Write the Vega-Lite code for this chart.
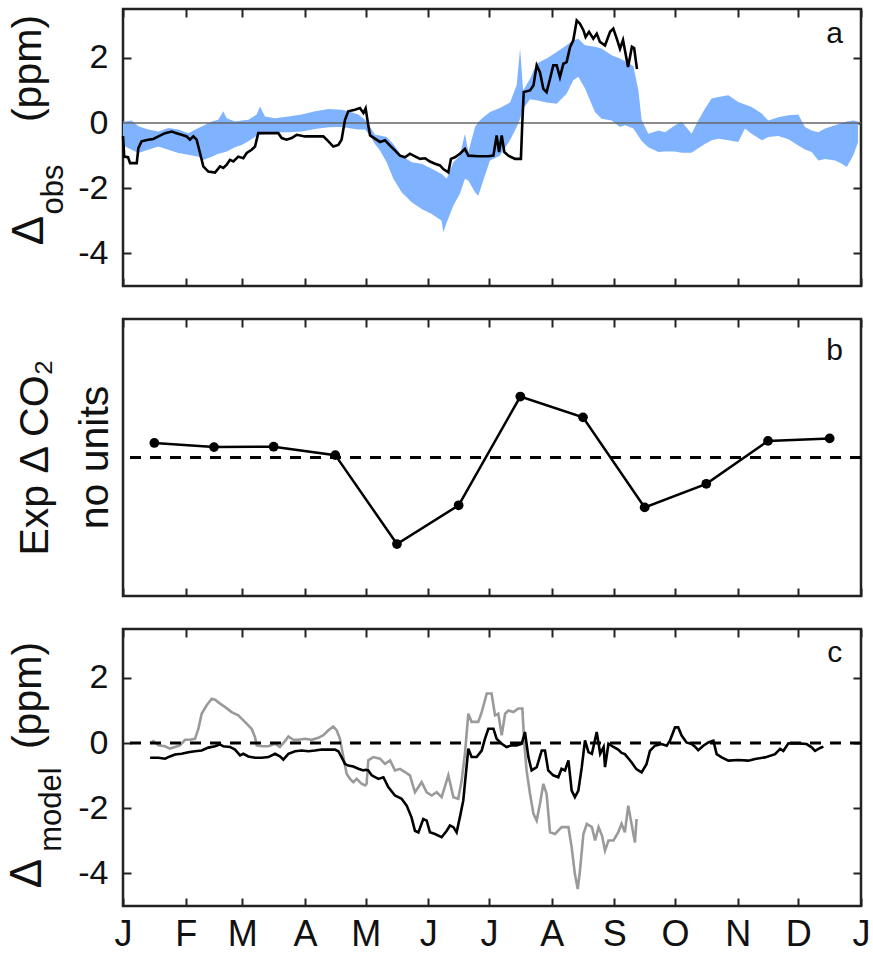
{
  "$schema": "https://vega.github.io/schema/vega-lite/v6.json",
  "background": "white",
  "padding": {"left": 3, "top": 6, "right": 8, "bottom": 0},
  "spacing": 27,
  "config": {
    "font": "Liberation Sans",
    "view": {"stroke": "#222", "strokeWidth": 2.5},
    "axis": {
      "grid": false, "domain": false,
      "tickColor": "#222", "tickWidth": 2,
      "labelFont": "Liberation Sans", "labelFontSize": 34, "labelColor": "#111",
      "labelOverlap": false, "labelFlush": false,
      "titleFont": "Liberation Sans", "titleColor": "#111", "titleFontWeight": "normal"
    }
  },
  "datasets": {
    "bandA": [
      {"day":0,"lo":-0.7,"hi":0.05},{"day":1,"lo":-0.72,"hi":0.05},{"day":4.3,"lo":-0.82,"hi":0.08},{"day":7.6,"lo":-0.92,"hi":-0.1},{"day":12.5,"lo":-0.82,"hi":-0.2},{"day":17.5,"lo":-0.72,"hi":-0.26},{"day":22.4,"lo":-0.82,"hi":-0.15},{"day":27.4,"lo":-0.92,"hi":-0.2},{"day":32.3,"lo":-0.97,"hi":-0.31},{"day":37.3,"lo":-1.03,"hi":-0.15},{"day":39.7,"lo":-1.13,"hi":-0.08},{"day":43.9,"lo":-1.03,"hi":0.05},{"day":47.1,"lo":-0.94,"hi":0.1},{"day":49.6,"lo":-0.9,"hi":0.36},{"day":51.3,"lo":-0.87,"hi":0.15},{"day":55.4,"lo":-0.74,"hi":0.05},{"day":58.7,"lo":-0.67,"hi":0.08},{"day":62,"lo":-0.56,"hi":0.1},{"day":66.1,"lo":-0.39,"hi":0.26},{"day":67.8,"lo":-0.36,"hi":0.51},{"day":70.2,"lo":-0.33,"hi":0.2},{"day":75.2,"lo":-0.29,"hi":0.15},{"day":81.8,"lo":-0.28,"hi":0.2},{"day":88.4,"lo":-0.26,"hi":0.26},{"day":95,"lo":-0.18,"hi":0.36},{"day":101.6,"lo":-0.13,"hi":0.43},{"day":108.1,"lo":-0.12,"hi":0.41},{"day":111.4,"lo":-0.15,"hi":0.36},{"day":116.4,"lo":-0.2,"hi":0.26},{"day":119.7,"lo":-0.2,"hi":0.1},{"day":122.2,"lo":-0.38,"hi":-0.12},{"day":124.6,"lo":-0.64,"hi":-0.36},{"day":127.1,"lo":-0.84,"hi":-0.38},{"day":130.4,"lo":-1.2,"hi":-0.43},{"day":133.7,"lo":-1.71,"hi":-0.64},{"day":137.8,"lo":-2.12,"hi":-1.0},{"day":142.8,"lo":-2.43,"hi":-1.2},{"day":147.7,"lo":-2.64,"hi":-1.25},{"day":152.7,"lo":-2.79,"hi":-1.4},{"day":157.6,"lo":-3.0,"hi":-1.56},{"day":158.4,"lo":-3.35,"hi":-1.61},{"day":160.1,"lo":-3.05,"hi":-1.71},{"day":163.4,"lo":-2.53,"hi":-1.2},{"day":166.6,"lo":-2.17,"hi":-1.0},{"day":169.1,"lo":-1.71,"hi":-0.33},{"day":170.8,"lo":-1.76,"hi":-0.89},{"day":174.1,"lo":-2.12,"hi":-0.12},{"day":175.7,"lo":-2.23,"hi":0.03},{"day":178.2,"lo":-1.76,"hi":0.18},{"day":181.5,"lo":-1.15,"hi":0.34},{"day":186.4,"lo":-1.0,"hi":0.46},{"day":191.4,"lo":-0.53,"hi":0.63},{"day":194.7,"lo":-0.12,"hi":1.16},{"day":196.4,"lo":0.13,"hi":2.29},{"day":197.9,"lo":0.44,"hi":1.0},{"day":201.3,"lo":0.73,"hi":1.36},{"day":204.6,"lo":0.7,"hi":1.83},{"day":209.5,"lo":0.63,"hi":1.98},{"day":214.5,"lo":0.59,"hi":2.18},{"day":219.4,"lo":0.9,"hi":2.39},{"day":222.7,"lo":1.31,"hi":2.54},{"day":225.2,"lo":1.42,"hi":2.59},{"day":228.5,"lo":1.06,"hi":2.39},{"day":233.4,"lo":0.34,"hi":2.34},{"day":236.7,"lo":0.13,"hi":2.29},{"day":241.7,"lo":0.08,"hi":2.08},{"day":245.8,"lo":-0.12,"hi":1.98},{"day":248.3,"lo":-0.07,"hi":1.9},{"day":252.4,"lo":-0.17,"hi":1.75},{"day":254.9,"lo":-0.4,"hi":1.0},{"day":256.5,"lo":-0.55,"hi":0.1},{"day":259.8,"lo":-0.74,"hi":-0.33},{"day":264.8,"lo":-0.89,"hi":-0.23},{"day":268.1,"lo":-0.87,"hi":-0.28},{"day":273,"lo":-0.87,"hi":-0.07},{"day":276.3,"lo":-0.91,"hi":0.05},{"day":281.2,"lo":-0.91,"hi":-0.33},{"day":284.5,"lo":-0.77,"hi":0.08},{"day":287.8,"lo":-0.64,"hi":0.44},{"day":291.1,"lo":-0.53,"hi":0.75},{"day":294.4,"lo":-0.48,"hi":0.8},{"day":299.4,"lo":-0.53,"hi":0.85},{"day":304.3,"lo":-0.58,"hi":0.65},{"day":307.6,"lo":-0.17,"hi":0.57},{"day":310.9,"lo":-0.33,"hi":0.49},{"day":315.9,"lo":-0.53,"hi":0.29},{"day":319.2,"lo":-0.43,"hi":0.08},{"day":324.1,"lo":-0.4,"hi":0.18},{"day":329.1,"lo":-0.5,"hi":0.24},{"day":334,"lo":-0.69,"hi":0.26},{"day":337.3,"lo":-0.81,"hi":-0.12},{"day":340.6,"lo":-0.89,"hi":-0.23},{"day":343.9,"lo":-1.15,"hi":-0.28},{"day":347.2,"lo":-1.1,"hi":-0.17},{"day":352.2,"lo":-1.15,"hi":-0.07},{"day":355.5,"lo":-1.25,"hi":0},{"day":358,"lo":-1.35,"hi":0.05},{"day":361.2,"lo":-0.99,"hi":0.08},{"day":363.5,"lo":-0.6,"hi":0.05}
    ],
    "obsA": [
      {"day":0,"v":-0.4},{"day":0.6,"v":-1.03},{"day":2.5,"v":-1.05},{"day":3.5,"v":-1.23},{"day":6.8,"v":-1.23},{"day":7.6,"v":-0.77},{"day":9.2,"v":-0.56},{"day":12.5,"v":-0.51},{"day":15,"v":-0.49},{"day":17.5,"v":-0.41},{"day":20.8,"v":-0.31},{"day":24.1,"v":-0.26},{"day":26.5,"v":-0.31},{"day":29,"v":-0.36},{"day":31.5,"v":-0.41},{"day":33.1,"v":-0.51},{"day":34.8,"v":-0.41},{"day":36.4,"v":-0.51},{"day":38.1,"v":-0.92},{"day":39.7,"v":-1.33},{"day":42.2,"v":-1.49},{"day":45.5,"v":-1.52},{"day":48,"v":-1.33},{"day":49.6,"v":-1.38},{"day":51.3,"v":-1.28},{"day":52.9,"v":-1.13},{"day":54.6,"v":-1.18},{"day":57,"v":-1.03},{"day":59.5,"v":-1.08},{"day":61.2,"v":-0.92},{"day":63.6,"v":-0.82},{"day":65.3,"v":-0.72},{"day":66.9,"v":-0.31},{"day":69.4,"v":-0.31},{"day":73.5,"v":-0.31},{"day":76.8,"v":-0.31},{"day":78.5,"v":-0.46},{"day":80.9,"v":-0.51},{"day":83.4,"v":-0.46},{"day":85.9,"v":-0.36},{"day":90,"v":-0.41},{"day":95,"v":-0.41},{"day":99.1,"v":-0.41},{"day":101.6,"v":-0.56},{"day":104,"v":-0.72},{"day":106.5,"v":-0.67},{"day":108.1,"v":-0.51},{"day":109.8,"v":0.1},{"day":111.4,"v":0.36},{"day":114.7,"v":0.41},{"day":117.2,"v":0.46},{"day":118.9,"v":0.31},{"day":120,"v":0.45},{"day":121.3,"v":-0.07},{"day":122.2,"v":-0.38},{"day":124.6,"v":-0.48},{"day":127.1,"v":-0.58},{"day":129.6,"v":-0.53},{"day":132.1,"v":-0.69},{"day":134.5,"v":-0.84},{"day":137,"v":-1.0},{"day":139.5,"v":-1.05},{"day":141.9,"v":-0.94},{"day":144.4,"v":-1.02},{"day":146.9,"v":-1.1},{"day":149.4,"v":-1.08},{"day":151.8,"v":-1.18},{"day":154.3,"v":-1.25},{"day":156.8,"v":-1.3},{"day":158.4,"v":-1.41},{"day":160.9,"v":-1.51},{"day":162.2,"v":-1.1},{"day":164.2,"v":-1.05},{"day":166.6,"v":-0.94},{"day":169.1,"v":-0.79},{"day":170.8,"v":-1.0},{"day":175.7,"v":-1.02},{"day":180.7,"v":-1.02},{"day":183.2,"v":-1.0},{"day":184.8,"v":-0.38},{"day":186,"v":-0.89},{"day":187.3,"v":-0.38},{"day":188.6,"v":-0.89},{"day":190.6,"v":-1.0},{"day":193.9,"v":-1.1},{"day":196.8,"v":-1.1},{"day":197.5,"v":0.03},{"day":198.2,"v":0.95},{"day":201.3,"v":1.0},{"day":203,"v":1.15},{"day":204.6,"v":1.77},{"day":206.2,"v":1.56},{"day":207.9,"v":1.05},{"day":209.5,"v":0.95},{"day":211.2,"v":1.36},{"day":212.8,"v":1.77},{"day":214.5,"v":1.77},{"day":216.1,"v":1.41},{"day":217.8,"v":1.82},{"day":219.4,"v":1.87},{"day":221.1,"v":2.33},{"day":222.7,"v":2.54},{"day":224.4,"v":3.15},{"day":226,"v":3.05},{"day":227.7,"v":2.85},{"day":228.8,"v":2.64},{"day":230.5,"v":2.8},{"day":232.6,"v":2.59},{"day":234.3,"v":2.74},{"day":235.9,"v":2.49},{"day":238.4,"v":2.38},{"day":240.9,"v":2.8},{"day":242.5,"v":2.9},{"day":244.2,"v":2.59},{"day":245.8,"v":2.28},{"day":247.3,"v":2.55},{"day":249.8,"v":1.72},{"day":251.7,"v":2.34},{"day":252.8,"v":2.3},{"day":254.2,"v":1.66}
    ],
    "expB": [
      {"day":15.5,"v":0.105},{"day":45,"v":0.075},{"day":74.5,"v":0.078},{"day":105,"v":0.017},{"day":135.5,"v":-0.625},{"day":166,"v":-0.345},{"day":196.5,"v":0.44},{"day":227.5,"v":0.29},{"day":258,"v":-0.36},{"day":288.5,"v":-0.19},{"day":319,"v":0.12},{"day":349.5,"v":0.138}
    ],
    "modelBlack": [
      {"day":13.4,"v":-0.45},{"day":17.5,"v":-0.45},{"day":20.8,"v":-0.48},{"day":23.2,"v":-0.41},{"day":25.7,"v":-0.35},{"day":29,"v":-0.33},{"day":32.3,"v":-0.28},{"day":35.6,"v":-0.25},{"day":38.9,"v":-0.23},{"day":42.2,"v":-0.14},{"day":45.5,"v":-0.1},{"day":48,"v":-0.04},{"day":49.6,"v":-0.1},{"day":52.9,"v":-0.12},{"day":55.4,"v":-0.2},{"day":57.9,"v":-0.38},{"day":59.5,"v":-0.33},{"day":62,"v":-0.41},{"day":65.3,"v":-0.45},{"day":68.6,"v":-0.45},{"day":71.9,"v":-0.43},{"day":75.2,"v":-0.33},{"day":77.6,"v":-0.41},{"day":79.3,"v":-0.51},{"day":81.8,"v":-0.33},{"day":85.1,"v":-0.25},{"day":88.4,"v":-0.23},{"day":91.7,"v":-0.25},{"day":95,"v":-0.23},{"day":98.3,"v":-0.2},{"day":101.6,"v":-0.2},{"day":104.8,"v":-0.2},{"day":106.5,"v":-0.25},{"day":108.1,"v":-0.43},{"day":109.8,"v":-0.64},{"day":111.4,"v":-0.69},{"day":113.9,"v":-0.72},{"day":116.4,"v":-0.79},{"day":118.9,"v":-0.84},{"day":120,"v":-0.82},{"day":121.3,"v":-0.84},{"day":123,"v":-0.99},{"day":126.3,"v":-1.1},{"day":128.8,"v":-1.05},{"day":131.2,"v":-1.35},{"day":134.5,"v":-1.61},{"day":137.8,"v":-1.71},{"day":140.3,"v":-1.92},{"day":142.7,"v":-2.28},{"day":144.4,"v":-2.69},{"day":146.1,"v":-2.74},{"day":148.5,"v":-2.33},{"day":150.2,"v":-2.38},{"day":151.8,"v":-2.74},{"day":154.3,"v":-2.79},{"day":157.6,"v":-2.89},{"day":160.1,"v":-2.69},{"day":161.7,"v":-2.53},{"day":163.4,"v":-2.58},{"day":165,"v":-2.74},{"day":166.6,"v":-2.28},{"day":168.3,"v":-1.76},{"day":169.9,"v":-0.74},{"day":170.8,"v":-0.17},{"day":172.4,"v":-0.43},{"day":174.9,"v":-0.43},{"day":177.4,"v":-0.23},{"day":179,"v":0.13},{"day":180.7,"v":0.44},{"day":183.2,"v":0.44},{"day":184.8,"v":0.13},{"day":187.3,"v":-0.02},{"day":189.7,"v":-0.12},{"day":192.2,"v":-0.07},{"day":194.7,"v":-0.07},{"day":197.2,"v":-0.02},{"day":198.8,"v":0.34},{"day":200.5,"v":-0.43},{"day":202.1,"v":-0.84},{"day":204.6,"v":-0.74},{"day":207.1,"v":-0.23},{"day":208.7,"v":-0.23},{"day":210.3,"v":-0.84},{"day":212.8,"v":-0.99},{"day":215.3,"v":-1.05},{"day":216.9,"v":-0.79},{"day":218.6,"v":-0.84},{"day":220.3,"v":-0.53},{"day":221.9,"v":-1.46},{"day":223.5,"v":-1.66},{"day":225.2,"v":-1.46},{"day":226.9,"v":-0.74},{"day":228.5,"v":0.08},{"day":230.2,"v":-0.28},{"day":231.9,"v":-0.33},{"day":234.3,"v":0.34},{"day":236,"v":-0.33},{"day":237.7,"v":-0.12},{"day":238.4,"v":-0.74},{"day":240.1,"v":-0.02},{"day":242.6,"v":-0.12},{"day":244.9,"v":-0.2},{"day":246.6,"v":-0.3},{"day":248.2,"v":-0.34},{"day":251.5,"v":-0.59},{"day":253.9,"v":-0.8},{"day":256.5,"v":-0.9},{"day":258.9,"v":-0.65},{"day":260.6,"v":-0.24},{"day":263.1,"v":-0.08},{"day":266.4,"v":-0.03},{"day":268.9,"v":-0.08},{"day":270.5,"v":0.07},{"day":273,"v":0.48},{"day":274.6,"v":0.48},{"day":276.3,"v":0.23},{"day":278.7,"v":0.02},{"day":281.2,"v":-0.03},{"day":282.9,"v":-0.11},{"day":284.5,"v":-0.22},{"day":287,"v":-0.08},{"day":289.5,"v":0.02},{"day":292,"v":0.07},{"day":293.6,"v":-0.34},{"day":296.1,"v":-0.44},{"day":299.4,"v":-0.54},{"day":304.3,"v":-0.52},{"day":309.3,"v":-0.54},{"day":312.6,"v":-0.49},{"day":317.5,"v":-0.44},{"day":322.5,"v":-0.34},{"day":325,"v":-0.18},{"day":326.6,"v":-0.24},{"day":329.1,"v":-0.01},{"day":334,"v":-0.01},{"day":338.1,"v":-0.03},{"day":340.6,"v":-0.13},{"day":342.3,"v":-0.24},{"day":344.8,"v":-0.15},{"day":346.4,"v":-0.11}
    ],
    "modelGray": [
      {"day":13.4,"v":0},{"day":15,"v":0.06},{"day":17.5,"v":-0.07},{"day":20.8,"v":-0.1},{"day":23.2,"v":-0.17},{"day":25.7,"v":-0.12},{"day":28.2,"v":-0.07},{"day":30.7,"v":0.1},{"day":33.1,"v":0.1},{"day":35.6,"v":0.13},{"day":37.3,"v":0.44},{"day":38.9,"v":0.9},{"day":41.4,"v":1.16},{"day":43.9,"v":1.36},{"day":45.5,"v":1.33},{"day":48,"v":1.21},{"day":50.4,"v":1.11},{"day":53.7,"v":0.95},{"day":57,"v":0.85},{"day":60.3,"v":0.65},{"day":63.6,"v":0.44},{"day":65.3,"v":0.18},{"day":66.1,"v":-0.07},{"day":68.6,"v":-0.1},{"day":71.9,"v":-0.1},{"day":75.2,"v":-0.02},{"day":77.6,"v":-0.12},{"day":80.1,"v":0.06},{"day":81.8,"v":0.2},{"day":84.2,"v":0.1},{"day":86.7,"v":0.1},{"day":90,"v":0.13},{"day":93.3,"v":0.1},{"day":96.6,"v":0.16},{"day":99.1,"v":0.24},{"day":101.6,"v":0.39},{"day":104,"v":0.51},{"day":105.7,"v":0.39},{"day":107.3,"v":0.13},{"day":109,"v":-0.43},{"day":110.6,"v":-0.94},{"day":112.3,"v":-1.1},{"day":113.9,"v":-1.2},{"day":115.6,"v":-1.1},{"day":118,"v":-1.25},{"day":119.7,"v":-1.3},{"day":120.5,"v":-1.25},{"day":121.3,"v":-0.53},{"day":123.8,"v":-0.43},{"day":127.1,"v":-0.48},{"day":129.6,"v":-0.64},{"day":132.1,"v":-0.53},{"day":134.5,"v":-0.84},{"day":137,"v":-0.79},{"day":139.5,"v":-0.89},{"day":141.9,"v":-0.99},{"day":144.4,"v":-1.51},{"day":147.7,"v":-1.2},{"day":150.2,"v":-1.51},{"day":152.7,"v":-1.61},{"day":155.1,"v":-1.51},{"day":157.6,"v":-1.66},{"day":160.9,"v":-0.99},{"day":163.4,"v":-1.66},{"day":165.8,"v":-1.71},{"day":167.5,"v":-1.15},{"day":169.1,"v":-0.33},{"day":170.8,"v":0.9},{"day":172.4,"v":0.65},{"day":175.7,"v":0.65},{"day":177.4,"v":0.95},{"day":179.9,"v":1.52},{"day":182.3,"v":1.52},{"day":184,"v":0.85},{"day":185.6,"v":0.9},{"day":187.3,"v":0.24},{"day":189,"v":0.9},{"day":190.6,"v":1.0},{"day":193.1,"v":0.95},{"day":195.5,"v":1.06},{"day":197.5,"v":1.06},{"day":198.5,"v":-0.02},{"day":199.6,"v":-0.84},{"day":201.3,"v":-1.56},{"day":203,"v":-2.17},{"day":204.6,"v":-2.38},{"day":206.2,"v":-1.87},{"day":207.9,"v":-1.25},{"day":209.5,"v":-1.56},{"day":211.2,"v":-2.74},{"day":213.7,"v":-2.79},{"day":216.9,"v":-2.58},{"day":220.3,"v":-2.58},{"day":221.9,"v":-3.2},{"day":223.5,"v":-4.02},{"day":224.9,"v":-4.48},{"day":226,"v":-3.92},{"day":227.7,"v":-2.79},{"day":229.4,"v":-2.48},{"day":231.9,"v":-2.58},{"day":233.5,"v":-2.99},{"day":235.2,"v":-2.58},{"day":236.9,"v":-2.84},{"day":238.4,"v":-3.3},{"day":240.1,"v":-2.99},{"day":242.6,"v":-2.99},{"day":244.9,"v":-2.74},{"day":246.6,"v":-2.48},{"day":248.2,"v":-2.74},{"day":249.9,"v":-1.92},{"day":251.5,"v":-2.48},{"day":253.2,"v":-3.05},{"day":254,"v":-2.33}
    ]
  },
  "vconcat": [
    {
      "width": 738, "height": 277,
      "layer": [
        {
          "data": {"name": "bandA"},
          "mark": {"type": "area", "color": "#80b3ff", "opacity": 1},
          "encoding": {
            "x": {"field": "day", "type": "quantitative", "scale": {"domain": [0, 365], "nice": false, "zero": false},
                  "axis": {"orient": "bottom", "values": [0,31,59,90,120,151,181,212,243,273,304,334,365], "labels": false, "tickSize": -8, "title": null}},
            "y": {"field": "lo", "type": "quantitative", "scale": {"domain": [-5, 3.5], "nice": false, "zero": false},
                  "axis": {"orient": "left", "values": [-4, -2, 0, 2], "tickSize": -8, "labelPadding": 23, "labelExpr": "'' + datum.value",
                           "title": "(ppm)", "titleX": -83, "titleY": 59, "titleAngle": 270, "titleFontSize": 41, "titleAlign": "center", "titleBaseline": "alphabetic"}},
            "y2": {"field": "hi"}
          }
        },
        {
          "data": {"values": [{}]},
          "mark": {"type": "rule", "color": "#666", "strokeWidth": 1.5},
          "encoding": {
            "y": {"datum": 0, "type": "quantitative", "scale": {"domain": [-5, 3.5], "nice": false, "zero": false},
                  "axis": {"orient": "left", "ticks": false, "labels": false,
                           "title": "obs", "titleX": -61, "titleY": 180, "titleAngle": 270, "titleFontSize": 31, "titleAlign": "center", "titleBaseline": "alphabetic"}}
          }
        },
        {
          "data": {"name": "obsA"},
          "mark": {"type": "line", "color": "#000", "strokeWidth": 2.6},
          "encoding": {
            "x": {"field": "day", "type": "quantitative", "scale": {"domain": [0, 365], "nice": false, "zero": false},
                  "axis": {"orient": "top", "values": [0,31,59,90,120,151,181,212,243,273,304,334,365], "labels": false, "tickSize": -8, "title": null}},
            "y": {"field": "v", "type": "quantitative", "scale": {"domain": [-5, 3.5], "nice": false, "zero": false},
                  "axis": {"orient": "right", "values": [-4, -2, 0, 2], "tickSize": -8, "labels": false,
                           "title": "Δ", "titleX": -819, "titleY": 221, "titleAngle": 270, "titleFontSize": 44, "titleAlign": "center", "titleBaseline": "alphabetic"}}
          }
        },
        {
          "data": {"values": [{"label": "a", "day": 352, "v": 2.74}]},
          "mark": {"type": "text", "fontSize": 30, "font": "Liberation Sans", "color": "#111", "align": "center", "baseline": "middle"},
          "encoding": {
            "x": {"field": "day", "type": "quantitative", "axis": null},
            "y": {"field": "v", "type": "quantitative", "axis": null},
            "text": {"field": "label"}
          }
        }
      ],
      "resolve": {"axis": {"x": "independent", "y": "independent"}}
    },
    {
      "width": 738, "height": 277,
      "layer": [
        {
          "data": {"values": [{}]},
          "mark": {"type": "rule", "color": "#000", "strokeWidth": 3, "strokeDash": [11, 9]},
          "encoding": {
            "y": {"datum": 0, "type": "quantitative", "scale": {"domain": [-1, 1], "nice": false, "zero": false},
                  "axis": {"orient": "left", "ticks": false, "labels": false,
                           "title": ["Exp Δ CO₂", "no units"], "titleX": -76, "titleY": 138, "titleAngle": 270, "titleFontSize": 41, "titleLineHeight": 60, "titleAlign": "center", "titleBaseline": "alphabetic"}}
          }
        },
        {
          "data": {"name": "expB"},
          "mark": {"type": "line", "color": "#000", "strokeWidth": 2.5, "point": {"filled": true, "size": 95, "color": "#000"}},
          "encoding": {
            "x": {"field": "day", "type": "quantitative", "scale": {"domain": [0, 365], "nice": false, "zero": false},
                  "axis": {"orient": "bottom", "values": [0,31,59,90,120,151,181,212,243,273,304,334,365], "labels": false, "tickSize": -8, "title": null}},
            "y": {"field": "v", "type": "quantitative", "scale": {"domain": [-1, 1], "nice": false, "zero": false}, "axis": null}
          }
        },
        {
          "data": {"values": [{"label": "b", "day": 352, "v": 0.77}]},
          "mark": {"type": "text", "fontSize": 30, "font": "Liberation Sans", "color": "#111", "align": "center", "baseline": "middle"},
          "encoding": {
            "x": {"field": "day", "type": "quantitative",
                  "axis": {"orient": "top", "values": [0,31,59,90,120,151,181,212,243,273,304,334,365], "labels": false, "tickSize": -8, "title": null}},
            "y": {"field": "v", "type": "quantitative", "axis": null},
            "text": {"field": "label"}
          }
        }
      ],
      "resolve": {"axis": {"x": "independent", "y": "independent"}}
    },
    {
      "width": 738, "height": 277,
      "layer": [
        {
          "data": {"name": "modelGray"},
          "mark": {"type": "line", "color": "#9a9a9a", "strokeWidth": 2.6},
          "encoding": {
            "x": {"field": "day", "type": "quantitative", "scale": {"domain": [0, 365], "nice": false, "zero": false},
                  "axis": {"orient": "bottom", "values": [0,31,59,90,120,151,181,212,243,273,304,334,365], "tickSize": -8, "labelPadding": 19, "labelFontSize": 36, "title": null,
                           "labelExpr": "['J','F','M','A','M','J','J','A','S','O','N','D','J'][indexof([0,31,59,90,120,151,181,212,243,273,304,334,365], datum.value)]"}},
            "y": {"field": "v", "type": "quantitative", "scale": {"domain": [-5, 3.5], "nice": false, "zero": false},
                  "axis": {"orient": "left", "values": [-4, -2, 0, 2], "tickSize": -8, "labelPadding": 23, "labelExpr": "'' + datum.value",
                           "title": "(ppm)", "titleX": -83, "titleY": 66, "titleAngle": 270, "titleFontSize": 41, "titleAlign": "center", "titleBaseline": "alphabetic"}}
          }
        },
        {
          "data": {"values": [{}]},
          "mark": {"type": "rule", "color": "#000", "strokeWidth": 3, "strokeDash": [11, 9]},
          "encoding": {
            "y": {"datum": 0, "type": "quantitative", "scale": {"domain": [-5, 3.5], "nice": false, "zero": false},
                  "axis": {"orient": "left", "ticks": false, "labels": false,
                           "title": "model", "titleX": -63, "titleY": 180, "titleAngle": 270, "titleFontSize": 31, "titleAlign": "center", "titleBaseline": "alphabetic"}}
          }
        },
        {
          "data": {"name": "modelBlack"},
          "mark": {"type": "line", "color": "#000", "strokeWidth": 2.6},
          "encoding": {
            "x": {"field": "day", "type": "quantitative", "scale": {"domain": [0, 365], "nice": false, "zero": false},
                  "axis": {"orient": "top", "values": [0,31,59,90,120,151,181,212,243,273,304,334,365], "labels": false, "tickSize": -8, "title": null}},
            "y": {"field": "v", "type": "quantitative", "scale": {"domain": [-5, 3.5], "nice": false, "zero": false},
                  "axis": {"orient": "right", "values": [-4, -2, 0, 2], "tickSize": -8, "labels": false,
                           "title": "Δ", "titleX": -821, "titleY": 244, "titleAngle": 270, "titleFontSize": 44, "titleAlign": "center", "titleBaseline": "alphabetic"}}
          }
        },
        {
          "data": {"values": [{"label": "c", "day": 352, "v": 2.77}]},
          "mark": {"type": "text", "fontSize": 30, "font": "Liberation Sans", "color": "#111", "align": "center", "baseline": "middle"},
          "encoding": {
            "x": {"field": "day", "type": "quantitative", "axis": null},
            "y": {"field": "v", "type": "quantitative", "axis": null},
            "text": {"field": "label"}
          }
        }
      ],
      "resolve": {"axis": {"x": "independent", "y": "independent"}}
    }
  ]
}
